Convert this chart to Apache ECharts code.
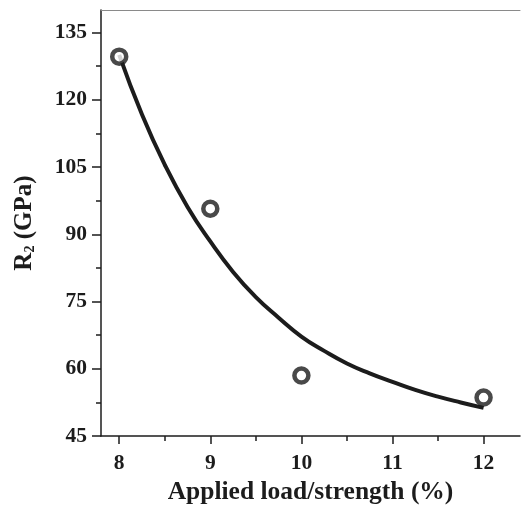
<!DOCTYPE html>
<html>
<head>
	<meta charset="utf-8">
	<title>R2 vs applied load</title>
	<script src="https://cdn.jsdelivr.net/npm/echarts@6/dist/echarts.min.js"></script>
	<style>
		html, body { margin: 0; padding: 0; background: #fff; }
		#main { width: 522px; height: 510px; }
	</style>
</head>
<body>
	<div id="main"></div>
	<script>
		// measured points
		var loadX = [8, 9, 10, 12];
		var r2Values = [129.6, 95.7, 58.5, 53.6];
		// fitted curve
		var fitX = [8, 8.25, 8.5, 8.75, 9, 9.25, 9.5, 9.75, 10, 10.25, 10.5, 10.75, 11, 11.25, 11.5, 11.75, 12];
		var fitY = [130, 116.7, 105.5, 96.1, 88.4, 81.6, 76.0, 71.4, 67.2, 64.0, 61.2, 59.0, 57.1, 55.3, 53.8, 52.5, 51.3];
		// tick labels
		var xTicks = [8, 9, 10, 11, 12];
		var xMinor = [8.5, 9.5, 10.5, 11.5];
		var yTicks = [45, 60, 75, 90, 105, 120, 135];
		var yMinor = [52.5, 67.5, 82.5, 97.5, 112.5, 127.5];

		var ink = '#1c1c1c';
		var font = '"Liberation Serif", "DejaVu Serif", serif';

		var chart = echarts.init(document.getElementById('main'));

		function pairs(xs, ys) {
			var out = [];
			for (var i = 0; i < xs.length; i++) out.push([xs[i], ys[i]]);
			return out;
		}

		var xBase = { type: 'value', min: 7.8, max: 12.4, splitLine: { show: false } };
		var yBase = { type: 'value', min: 45, max: 140, splitLine: { show: false } };

		chart.setOption({
			backgroundColor: '#fff',
			animation: false,
			grid: { left: 101, right: 2, top: 10, bottom: 72 },
			xAxis: [
				Object.assign({}, xBase, {
					position: 'bottom',
					name: 'Applied load/strength (%)',
					nameLocation: 'middle',
					nameGap: 41,
					nameTextStyle: { fontFamily: font, fontWeight: 'bold', fontSize: 25.5, color: ink },
					axisLine: { lineStyle: { color: ink, width: 1.5 } },
					axisTick: { inside: false, length: 8, customValues: xTicks, lineStyle: { color: ink, width: 1.5 } },
					axisLabel: { customValues: xTicks, margin: 16, fontFamily: font, fontWeight: 'bold', fontSize: 21.5, color: ink }
				}),
				Object.assign({}, xBase, {
					position: 'bottom',
					axisLine: { show: false },
					axisTick: { inside: false, length: 5, customValues: xMinor, lineStyle: { color: ink, width: 1.5 } },
					axisLabel: { show: false }
				}),
				Object.assign({}, xBase, {
					position: 'top',
					axisLine: { lineStyle: { color: '#8a8a8a', width: 1 } },
					axisTick: { show: false },
					axisLabel: { show: false }
				})
			],
			yAxis: [
				Object.assign({}, yBase, {
					position: 'left',
					name: 'R{sub|2} (GPa)',
					nameLocation: 'middle',
					nameGap: 64,
					nameTextStyle: {
						fontFamily: font, fontWeight: 'bold', fontSize: 25, color: ink,
						rich: {
							sub: { fontFamily: font, fontWeight: 'bold', fontSize: 14, color: ink, verticalAlign: 'bottom', padding: [11, 0, 0, 0] }
						}
					},
					axisLine: { lineStyle: { color: ink, width: 1.5 } },
					axisTick: { inside: false, length: 9, customValues: yTicks, lineStyle: { color: ink, width: 1.5 } },
					axisLabel: { customValues: yTicks, margin: 14, fontFamily: font, fontWeight: 'bold', fontSize: 21.5, color: ink }
				}),
				Object.assign({}, yBase, {
					position: 'left',
					axisLine: { show: false },
					axisTick: { inside: false, length: 5, customValues: yMinor, lineStyle: { color: ink, width: 1.5 } },
					axisLabel: { show: false }
				})
			],
			series: [
				{
					name: 'fit',
					type: 'line',
					data: pairs(fitX, fitY),
					smooth: true,
					showSymbol: false,
					lineStyle: { color: ink, width: 4 },
					z: 2
				},
				{
					name: 'R2',
					type: 'scatter',
					data: pairs(loadX, r2Values),
					symbol: 'circle',
					symbolSize: 14,
					itemStyle: { color: '#fff', borderColor: ink, borderWidth: 4.5 },
					z: 3
				}
			]
		});
	</script>
</body>
</html>
